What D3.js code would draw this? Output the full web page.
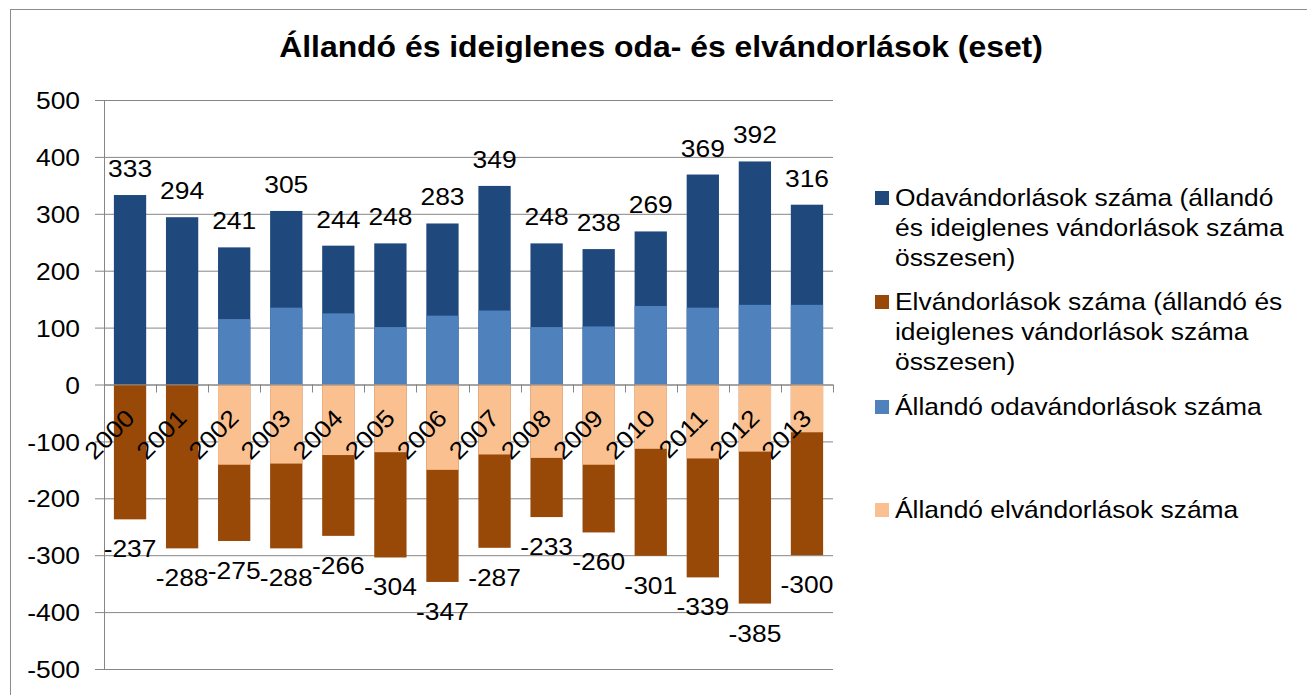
<!DOCTYPE html>
<html>
<head>
<meta charset="utf-8">
<script src="https://cdn.jsdelivr.net/npm/d3@7"></script>
<style>
  body { margin: 0; background: #fff; }
  text { font-family: "Liberation Sans", Arial, sans-serif; fill: #000; }
</style>
</head>
<body>
<script>
// data
var years = ["2000","2001","2002","2003","2004","2005","2006","2007","2008","2009","2010","2011","2012","2013"];
var odaTotal = [333, 294, 241, 305, 244, 248, 283, 349, 248, 238, 269, 369, 392, 316];
var odaPerm = [null, null, 115, 135, 125, 101, 121, 130, 101, 102, 138, 135, 140, 140];
var elTotal = [-237, -288, -275, -288, -266, -304, -347, -287, -233, -260, -301, -339, -385, -300];
var elPerm = [null, null, -141, -139, -124, -119, -150, -123, -129, -141, -113, -130, -118, -84];
var yTicks = [500, 400, 300, 200, 100, 0, -100, -200, -300, -400, -500];

var legendItems = [
    {color: "#1F497D", lines: ["Odavándorlások száma (állandó", "és ideiglenes vándorlások száma", "összesen)"]},
    {color: "#984807", lines: ["Elvándorlások száma (állandó és", "ideiglenes vándorlások száma", "összesen)"]},
    {color: "#4F81BD", lines: ["Állandó odavándorlások száma"]},
    {color: "#FAC090", lines: ["Állandó elvándorlások száma"]}
];

var svg = d3.select("body").append("svg")
        .attr("width", 1307)
        .attr("height", 695);

var plot = {left: 104, right: 833, top: 100, bottom: 669};
var fs = 24;
var sx = 1.1;   // the reference text is drawn a bit wider than the font

function at(px, py) {
    return "translate(" + px + "," + py + ") scale(" + sx + ",1)";
}

// outer chart border (right / bottom edges fall outside the picture)
svg.append("rect")
    .attr("x", 10.5).attr("y", 9.5)
    .attr("width", 1400).attr("height", 900)
    .attr("fill", "none")
    .attr("stroke", "#8c8c8c");

svg.append("text")
    .attr("transform", at(661, 57))
    .attr("text-anchor", "middle")
    .attr("font-size", 29)
    .attr("font-weight", "bold")
    .text("Állandó és ideiglenes oda- és elvándorlások (eset)");

var x = d3.scaleBand().domain(years)
    .range([plot.left, plot.right])
    .paddingInner(0.38).paddingOuter(0.19);
var y = d3.scaleLinear().domain([-500, 500]).range([plot.bottom, plot.top]);

// gridlines + y axis
var yaxis = svg.append("g")
    .attr("transform", "translate(" + plot.left + ",0)")
    .call(d3.axisLeft(y).tickValues(yTicks).tickSize(plot.left - plot.right).tickSizeOuter(0).tickPadding(0));
yaxis.select(".domain").remove();
yaxis.selectAll(".tick line").attr("stroke", "#868686").attr("x1", -9);
yaxis.selectAll(".tick text")
    .attr("x", 0)
    .attr("transform", at(-24, 0))
    .attr("font-size", fs)
    .attr("font-family", "Liberation Sans, Arial, sans-serif")
    .attr("fill", "#000")
    .attr("dy", "0.36em")
    .text(function(d) { return d; });
svg.append("line")
    .attr("x1", plot.left + 0.5).attr("x2", plot.left + 0.5)
    .attr("y1", plot.top).attr("y2", plot.bottom)
    .attr("stroke", "#868686");

function drawBars(vals, color) {
    svg.append("g").selectAll("rect")
        .data(years.map(function(yr, i) { return {year: yr, v: vals[i]}; })
              .filter(function(d) { return d.v !== null; }))
        .join("rect")
        .attr("x", function(d) { return x(d.year); })
        .attr("width", x.bandwidth())
        .attr("y", function(d) { return y(Math.max(0, d.v)); })
        .attr("height", function(d) { return Math.abs(y(d.v) - y(0)); })
        .attr("fill", color);
}
drawBars(odaTotal, "#1F497D");
drawBars(elTotal, "#984807");
drawBars(odaPerm, "#4F81BD");
drawBars(elPerm, "#FAC090");

// category axis on the zero line
var xaxis = svg.append("g")
    .attr("transform", "translate(0," + y(0) + ")")
    .call(d3.axisBottom(x).tickSize(0).tickFormat(""));
xaxis.select(".domain").attr("stroke", "#868686").attr("d", "M" + plot.left + ",0.5H" + plot.right);
var bounds = years.map(function(yr) { return x(yr) - x.step() * x.paddingInner() / 2; });
bounds.push(plot.right);
xaxis.selectAll("line.bound")
    .data(bounds)
    .join("line")
    .attr("class", "bound")
    .attr("x1", function(d) { return Math.round(d) + 0.5; })
    .attr("x2", function(d) { return Math.round(d) + 0.5; })
    .attr("y1", 0).attr("y2", 8)
    .attr("stroke", "#868686");

svg.append("g").selectAll("text")
    .data(years)
    .join("text")
    .attr("text-anchor", "end")
    .attr("font-size", fs)
    .attr("transform", function(d) {
        return "translate(" + (x(d) + x.bandwidth() / 2 + 6) + "," + (y(0) + 35) + ") rotate(-45) scale(" + sx + ",1)";
    })
    .text(function(d) { return d; });

// data labels
svg.append("g").selectAll("text")
    .data(odaTotal)
    .join("text")
    .attr("text-anchor", "middle")
    .attr("font-size", fs)
    .attr("transform", function(d, i) { return at(x(years[i]) + x.bandwidth() / 2, y(d) - 18); })
    .text(function(d) { return d; });

svg.append("g").selectAll("text")
    .data(elTotal)
    .join("text")
    .attr("text-anchor", "middle")
    .attr("font-size", fs)
    .attr("transform", function(d, i) { return at(x(years[i]) + x.bandwidth() / 2, y(d) + 38); })
    .text(function(d) { return d; });

// legend
var legend = svg.append("g").attr("transform", "translate(875,0)");
var entryY = [206, 310, 415, 518];
legendItems.forEach(function(item, i) {
    var g = legend.append("g").attr("transform", "translate(0," + entryY[i] + ")");
    g.append("rect")
        .attr("x", 0).attr("y", -15)
        .attr("width", 14).attr("height", 14)
        .attr("fill", item.color);
    g.selectAll("text")
        .data(item.lines)
        .join("text")
        .attr("transform", function(d, j) { return at(20, j * 30); })
        .attr("font-size", fs)
        .text(function(d) { return d; });
});
</script>
</body>
</html>
